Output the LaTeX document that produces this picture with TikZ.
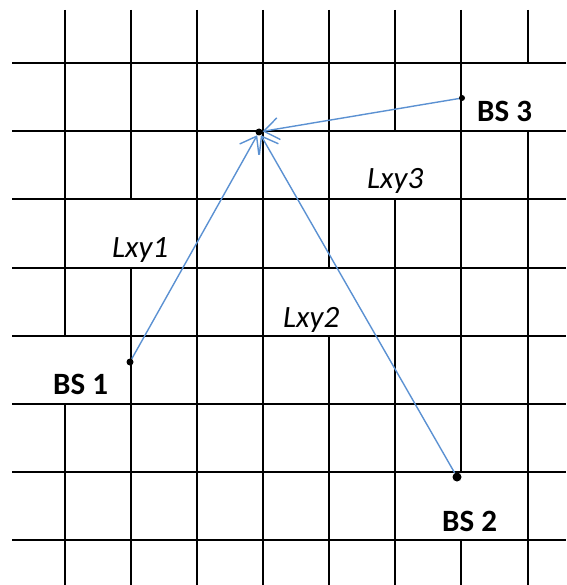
\documentclass[tikz,border=0pt]{standalone}
\usepackage{fontspec}
\setmainfont{Carlito}
\usetikzlibrary{arrows.meta}
\definecolor{arrowblue}{RGB}{91,145,210}
\begin{document}
\begin{tikzpicture}[x=1pt,y=-1pt,
  grid/.style={draw=black,line width=1.7pt},
  link/.style={draw=arrowblue,line width=1.4pt,-{Straight Barb[length=15pt,width=22pt]}},
  dot/.style={circle,fill=black,inner sep=0pt,minimum size=#1},
  lbl/.style={anchor=base west,inner sep=0pt,font=\fontsize{31}{37}\selectfont\itshape},
  bs/.style={anchor=base west,inner sep=0pt,font=\fontsize{31}{37}\selectfont\bfseries}]
\useasboundingbox (0,0) rectangle (566,585);
% grid
\foreach \y in {63,131,199,268,336,404,472,540}
  \draw[grid] (12,\y) -- (566,\y);
\draw[grid] (65,10) -- (65,336) (65,404) -- (65,585);
\draw[grid] (131,10) -- (131,199) (131,268) -- (131,585);
\draw[grid] (197,10) -- (197,585);
\draw[grid] (263,10) -- (263,585);
\draw[grid] (329,10) -- (329,268) (329,336) -- (329,585);
\draw[grid] (395,10) -- (395,131) (395,199) -- (395,585);
\draw[grid] (461,10) -- (461,472) (461,540) -- (461,585);
\draw[grid] (528,10) -- (528,63) (528,131) -- (528,585);
% points
\node[dot=7pt] (t) at (259,132) {};
\node[dot=7pt] (bs1) at (130,362) {};
\node[dot=9pt] (bs2) at (457,477) {};
\node[dot=6pt] (bs3) at (462,98) {};
% links
\draw[link] (bs3) -- (t);
\draw[link] (bs1) -- (t);
\draw[link] (bs2) -- (t);
% labels
\node[lbl] (l1) at (112,257) {Lxy1};
\node[lbl] (l2) at (283,327) {Lxy2};
\node[lbl] (l3) at (367,189) {Lxy3};
\node[bs] (n1) at (53,394) {BS 1};
\node[bs] (n2) at (442,531) {BS 2};
\node[bs] (n3) at (477,122) {BS 3};
\end{tikzpicture}
\end{document}
